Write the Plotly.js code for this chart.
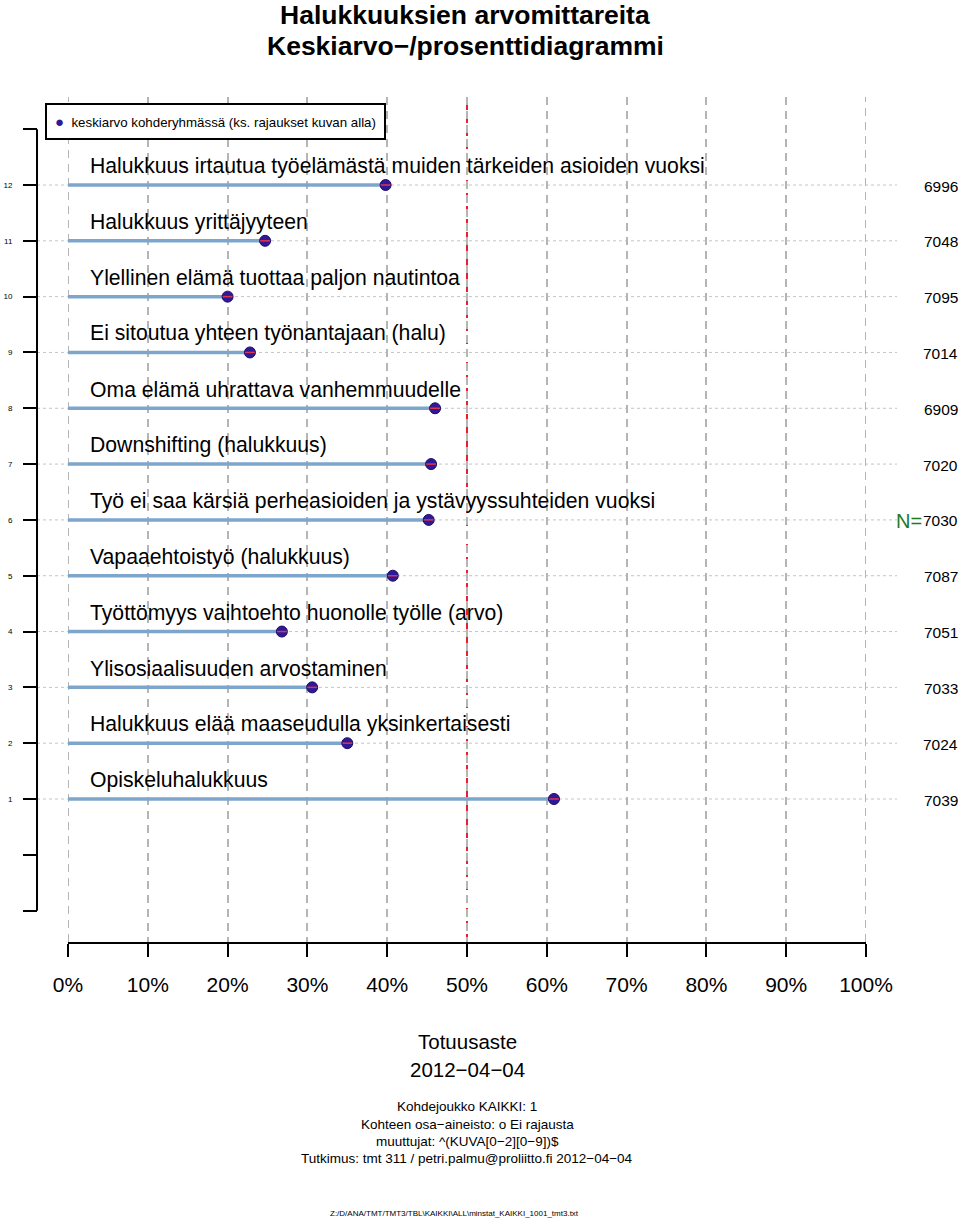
<!DOCTYPE html>
<html>
<head>
<meta charset="utf-8">
<script src="https://cdn.plot.ly/plotly-3.0.1.min.js"></script>
<style>html,body{margin:0;padding:0;background:#fff;}#chart{width:960px;height:1220px;}</style>
</head>
<body>
<div id="chart"></div>
<script>
// ---- data ----
var rows = [12, 11, 10, 9, 8, 7, 6, 5, 4, 3, 2, 1];
var labels = [
  "Halukkuus irtautua työelämästä muiden tärkeiden asioiden vuoksi",
  "Halukkuus yrittäjyyteen",
  "Ylellinen elämä tuottaa paljon nautintoa",
  "Ei sitoutua yhteen työnantajaan (halu)",
  "Oma elämä uhrattava vanhemmuudelle",
  "Downshifting (halukkuus)",
  "Työ ei saa kärsiä perheasioiden ja ystävyyssuhteiden vuoksi",
  "Vapaaehtoistyö (halukkuus)",
  "Työttömyys vaihtoehto huonolle työlle (arvo)",
  "Ylisosiaalisuuden arvostaminen",
  "Halukkuus elää maaseudulla yksinkertaisesti",
  "Opiskeluhalukkuus"
];
var means = [39.8, 24.7, 20.0, 22.8, 46.0, 45.5, 45.2, 40.7, 26.8, 30.6, 35.0, 60.9];
var nValues = [6996, 7048, 7095, 7014, 6909, 7020, 7030, 7087, 7051, 7033, 7024, 7039];
var xTicks = [0, 10, 20, 30, 40, 50, 60, 70, 80, 90, 100];
var xTickText = ["0%", "10%", "20%", "30%", "40%", "50%", "60%", "70%", "80%", "90%", "100%"];
var yTicks = [13, 12, 11, 10, 9, 8, 7, 6, 5, 4, 3, 2, 1, 0, -1];
var yTickText = ["", "12", "11", "10", "9", "8", "7", "6", "5", "4", "3", "2", "1", "", ""];
var refValue = 50;
var titleLines = ["Halukkuuksien arvomittareita", "Keskiarvo\u2212/prosenttidiagrammi"];
var legendText = "keskiarvo kohderyhmässä (ks. rajaukset kuvan alla)";
var xTitleLines = ["Totuusaste", "2012\u221204\u221204"];
var footLines = [
  "Kohdejoukko KAIKKI: 1",
  "Kohteen osa\u2212aineisto: o Ei rajausta",
  "muuttujat: ^(KUVA[0\u22122][0\u22129])$",
  "Tutkimus: tmt 311 / petri.palmu@proliitto.fi 2012\u221204\u221204"
];
var filePath = "Z:/D/ANA/TMT/TMT3/TBL\\KAIKKI\\ALL\\minstat_KAIKKI_1001_tmt3.txt";

// ---- build ----
var FONT = "Liberation Sans, Arial, Helvetica, sans-serif";
var W = 960, H = 1220;
var plotTop = 97, plotBottom = 942, plotLeft = 68, plotRight = 866;

var barX = [], barY = [];
for (var i = 0; i < rows.length; i++) {
  barX.push(0, means[i], null);
  barY.push(rows[i], rows[i], null);
}

var traces = [
  {
    type: "scatter", mode: "lines", x: barX, y: barY,
    line: {color: "#7ea6cc", width: 3.5}, showlegend: false, hoverinfo: "skip"
  },
  {
    type: "scatter", mode: "markers", x: means, y: rows,
    marker: {symbol: "circle", size: 11, color: "#2e1a96", line: {color: "#1c0c6e", width: 1}},
    showlegend: false, name: "keskiarvo"
  },
  {
    type: "scatter", mode: "markers", x: means, y: rows,
    marker: {symbol: "line-ew", size: 7, color: "#e2334a", line: {color: "#e2334a", width: 1.5}},
    showlegend: false, hoverinfo: "skip"
  }
];

var shapes = [];
// dotted row guides
for (var j = 0; j < rows.length; j++) {
  shapes.push({
    type: "line", xref: "paper", yref: "y",
    x0: 37 / W, x1: 897 / W, y0: rows[j], y1: rows[j],
    line: {color: "#c4c4c4", width: 1, dash: "dot"}, layer: "below"
  });
}
// dashed grid at the axis ends
[xTicks[0], xTicks[xTicks.length - 1]].forEach(function (v) {
  shapes.push({
    type: "line", xref: "x", yref: "paper", x0: v, x1: v, y0: 0, y1: 1,
    line: {color: "#b5b5b5", width: 2, dash: "8px,6px"}, layer: "below"
  });
});
// y-axis line
shapes.push({
  type: "line", xref: "paper", yref: "y",
  x0: 37 / W, x1: 37 / W, y0: yTicks[yTicks.length - 1], y1: yTicks[0],
  line: {color: "#000", width: 2}
});
// reference line
shapes.push({
  type: "line", xref: "x", yref: "paper",
  x0: refValue, x1: refValue, y0: 0, y1: 1,
  line: {color: "#e8202a", width: 2, dash: "8px,5px"}, layer: "below"
});

var annotations = [];
// title lines
var titleY = [15, 46];
for (var t = 0; t < titleLines.length; t++) {
  annotations.push({
    xref: "x", yref: "paper", x: 50, y: 1, xshift: -2, yshift: plotTop - titleY[t],
    xanchor: "center", yanchor: "middle", showarrow: false,
    text: "<b>" + titleLines[t] + "</b>", font: {family: FONT, size: 26.5, color: "#000"}
  });
}
for (var k = 0; k < rows.length; k++) {
  annotations.push({
    xref: "x", yref: "y", x: 0, y: rows[k], xshift: 20, yshift: 19,
    xanchor: "left", yanchor: "middle", showarrow: false,
    text: labels[k], font: {family: FONT, size: 21.2, color: "#000"}
  });
  annotations.push({
    xref: "paper", yref: "y", x: 1, y: rows[k], xshift: 0, yshift: -1,
    xanchor: "right", yanchor: "middle", showarrow: false,
    text: String(nValues[k]), font: {family: FONT, size: 15.5, color: "#000"}
  });
}
// N= label at middle row
annotations.push({
  xref: "paper", yref: "y", x: 1, y: 6, xshift: -36, yshift: -1,
  xanchor: "right", yanchor: "middle", showarrow: false,
  text: "N=", font: {family: FONT, size: 20, color: "#1f7a1f"}
});
// legend box
annotations.push({
  xref: "paper", yref: "paper", x: 45 / W, y: 1, yshift: -6,
  xanchor: "left", yanchor: "top", showarrow: false, align: "left",
  text: '<span style="color:#2e1a96;font-size:15px">\u25CF</span>  ' + legendText,
  font: {family: FONT, size: 13.3, color: "#000"},
  bordercolor: "#000", borderwidth: 2, borderpad: 8, bgcolor: "#fff"
});
// x title lines
var xTitleY = [1041, 1069];
for (var m = 0; m < xTitleLines.length; m++) {
  annotations.push({
    xref: "x", yref: "paper", x: 50, y: 0, yshift: -(xTitleY[m] - plotBottom),
    xanchor: "center", yanchor: "middle", showarrow: false,
    text: xTitleLines[m], font: {family: FONT, size: 20.5, color: "#000"}
  });
}
var footY = [1106, 1124, 1141, 1158];
for (var n = 0; n < footLines.length; n++) {
  annotations.push({
    xref: "x", yref: "paper", x: 50, y: 0, yshift: -(footY[n] - plotBottom),
    xanchor: "center", yanchor: "middle", showarrow: false,
    text: footLines[n], font: {family: FONT, size: 13.5, color: "#000"}
  });
}
annotations.push({
  xref: "x", yref: "paper", x: 50, y: 0, xshift: -13, yshift: -(1213 - plotBottom),
  xanchor: "center", yanchor: "middle", showarrow: false,
  text: filePath, font: {family: FONT, size: 8, color: "#000"}
});

var pxPerUnit = (799 - 185) / 11;
var yMin = 1 - (plotBottom - 799) / pxPerUnit;
var yMax = 12 + (185 - plotTop) / pxPerUnit;

var layout = {
  width: W, height: H,
  paper_bgcolor: "#fff", plot_bgcolor: "#fff",
  margin: {l: 0, r: 0, t: plotTop, b: H - plotBottom, pad: 0},
  showlegend: false,
  font: {family: FONT, color: "#000"},
  xaxis: {
    domain: [plotLeft / W, plotRight / W],
    range: [0, 100], tickmode: "array", tickvals: xTicks, ticktext: xTickText,
    showline: true, linecolor: "#000", linewidth: 2,
    ticks: "outside", ticklen: 13, tickwidth: 2, tickcolor: "#000",
    ticklabelstandoff: 10,
    tickfont: {family: FONT, size: 21, color: "#000"},
    showgrid: true, gridcolor: "#b5b5b5", gridwidth: 2, griddash: "8px,6px",
    zeroline: false, mirror: false
  },
  yaxis: {
    range: [yMin, yMax], anchor: "free", position: 37 / W,
    tickmode: "array", tickvals: yTicks, ticktext: yTickText,
    showline: false, ticks: "outside", ticklen: 14, tickwidth: 2, tickcolor: "#000",
    ticklabelstandoff: 9,
    tickfont: {family: FONT, size: 8, color: "#000"},
    showgrid: false, zeroline: false
  },
  shapes: shapes,
  annotations: annotations
};

Plotly.newPlot("chart", traces, layout, {displayModeBar: false, staticPlot: true});
</script>
</body>
</html>
